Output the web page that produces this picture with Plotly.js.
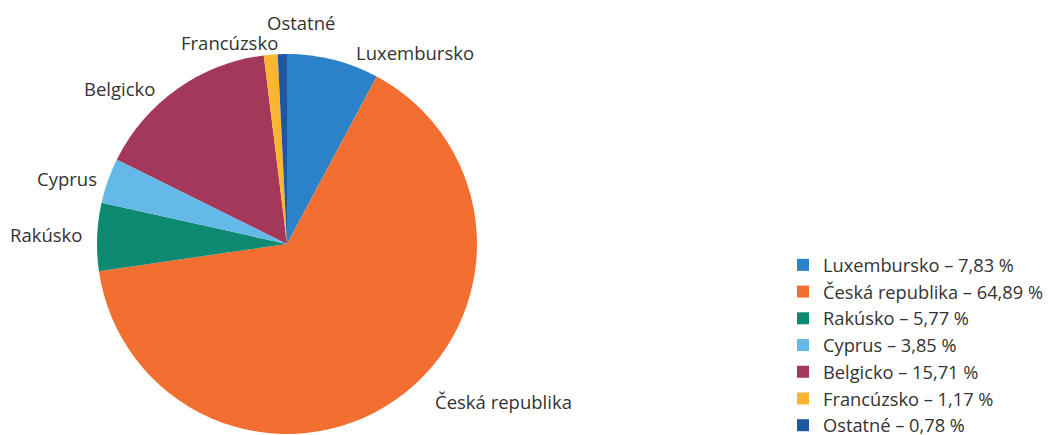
<!DOCTYPE html>
<html><head><meta charset="utf-8">
<script src="https://cdn.plot.ly/plotly-3.0.1.min.js"></script>
<style>html,body{margin:0;padding:0;background:#fff}</style>
</head><body>
<div id="chart" style="width:1051px;height:435px"></div>
<script>
// ---- data ----
const categories = ["Luxembursko", "Česká republika", "Rakúsko", "Cyprus", "Belgicko", "Francúzsko", "Ostatné"];
const values = [7.83, 64.89, 5.77, 3.85, 15.71, 1.17, 0.78];

// ---- style / layout ----
const colors = ["#2a82c9", "#f36f31", "#0f8a72", "#64b9e8", "#a3385a", "#fbb531", "#1f57a0"];
const FONT = "'Open Sans', sans-serif";
const LABEL_SIZE = 18.5;
const LEGEND_SIZE = 18.25;
const TEXT_COLOR = "#333333";
const W = 1051, H = 435;
const cx = 287, cy = 244, r = 190;
const labelRadius = 197;
// fine adjustments (px) of outside labels, like the reference label layout
const labelNudge = {
  "Luxembursko": [19, 0],
  "Česká republika": [33, -4],
  "Rakúsko": [-6, -2],
  "Cyprus": [-2, 0],
  "Belgicko": [-16, 5],
  "Francúzsko": [10, -5],
  "Ostatné": [55, -25]
};

const legendLabels = categories.map((c, i) => c + " – " + values[i].toFixed(2).replace(".", ",") + " %");

const trace = {
  type: "pie",
  labels: legendLabels,
  values: values,
  textinfo: "none",
  hoverinfo: "label",
  sort: false,
  direction: "clockwise",
  rotation: 0,
  marker: {colors: colors, line: {width: 0}},
  automargin: false,
  domain: {x: [(cx - r) / W, (cx + r) / W], y: [(H - cy - r) / H, (H - cy + r) / H]}
};

// slice label annotations, positioned from each slice's mid angle
const total = values.reduce((a, b) => a + b, 0);
let cum = 0;
const annotations = categories.map((c, i) => {
  const mid = (cum + values[i] / 2) / total * 2 * Math.PI;
  cum += values[i];
  const s = Math.sin(mid), co = Math.cos(mid);
  const px = cx + s * labelRadius;
  const py = cy - co * labelRadius;
  const nud = labelNudge[c] || [0, 0];
  return {
    xref: "paper", yref: "paper",
    x: (px + nud[0]) / W, y: 1 - (py + nud[1]) / H,
    xanchor: s >= 0 ? "left" : "right", yanchor: "middle",
    text: c, showarrow: false,
    font: {family: FONT, size: LABEL_SIZE, color: TEXT_COLOR}
  };
});

const layout = {
  width: W, height: H,
  margin: {l: 0, r: 0, t: 0, b: 0, autoexpand: false},
  paper_bgcolor: "#ffffff",
  showlegend: true,
  legend: {
    x: 783 / W, y: 1 - 246.5 / H, xanchor: "left", yanchor: "top",
    font: {family: FONT, size: LEGEND_SIZE, color: TEXT_COLOR},
    tracegroupgap: 0
  },
  font: {family: FONT},
  annotations: annotations
};

Plotly.newPlot("chart", [trace], layout, {displayModeBar: false, staticPlot: true});
</script>
</body></html>
